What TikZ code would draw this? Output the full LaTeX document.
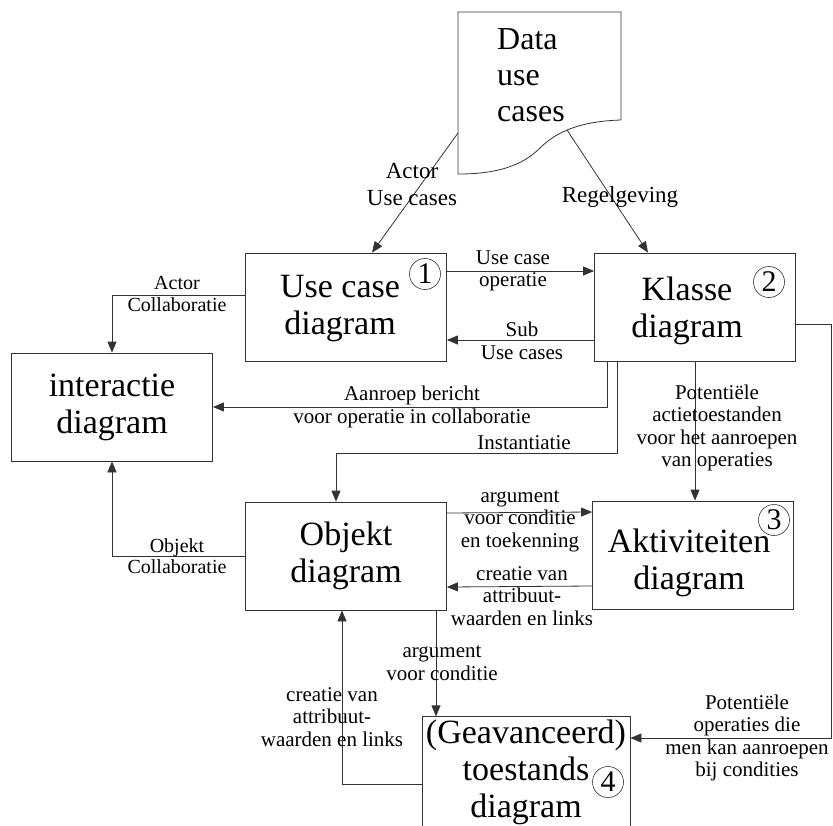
\documentclass[tikz,border=0pt]{standalone}
\usepackage{fontspec}
\setmainfont{Liberation Serif}
\usetikzlibrary{arrows.meta}

\begin{document}
\begin{tikzpicture}[x=1pt, y=-1pt, >={Triangle[length=11pt,width=9pt]},
    ln/.style={draw=black!80, line width=0.8pt},
    big/.style={inner sep=0pt, align=center, font=\fontsize{34}{37}\selectfont},
    box/.style={ln, big, minimum width=201pt, minimum height=108pt},
    num/.style={draw=black!80, line width=0.6pt, circle, minimum size=31pt, inner sep=0pt, font=\fontsize{30}{30}\selectfont},
    lbl/.style={inner sep=0pt, align=center, font=\fontsize{21}{22.5}\selectfont},
    slbl/.style={lbl, font=\fontsize{20}{21.5}\selectfont},
    blbl/.style={lbl, font=\fontsize{23}{27}\selectfont}]
        \path[use as bounding box, clip] (0,0) rectangle (833,825);

        % document shape
        \draw[ln] (458,12) -- (621,12) -- (621,120)
            .. controls (588,121) and (560,128) .. (540,148)
            .. controls (520,168) and (492,174) .. (458,174) -- cycle;
        \node[anchor=west, align=left, inner sep=0pt, font=\fontsize{32}{36}\selectfont]
            (doc) at (497,75) {Data\\use\\cases};
        \coordinate (docl) at (458,133);
        \coordinate (docr) at (567,130);

        \node[box, label={[big, xshift=-6pt, yshift=-2pt]center:{Use case\\diagram}}] (uc) at (346,307) {};
        \node[box, label={[big, xshift=-8pt, yshift=-4pt]center:{Klasse\\diagram}}] (kl) at (695,307) {};
        \node[box] (ia) at (112,407) {interactie\\diagram};
        \node[box] (ob) at (346,556) {Objekt\\diagram};
        \node[box, label={[big, xshift=-4pt, yshift=-8pt]center:{Aktiviteiten\\diagram}}] (ak) at (693,555) {};
        \node[box, minimum width=208pt, minimum height=112pt] (ts) at (526,772) {(Geavanceerd)\\toestands\\diagram};

        \node[num] (n1) at (425,274) {1};
        \node[num] (n2) at (769,282) {2};
        \node[num] (n3) at (774,520) {3};
        \node[num] (n4) at (608,782) {4};

        \draw[ln, ->] (docl) -- ([xshift=26pt]uc.north);
        \draw[ln, ->] (docr) -- ([xshift=-47pt]kl.north);
        \draw[ln, ->] ([yshift=36pt]uc.east) -- ([yshift=36pt]kl.west);
        \draw[ln, ->] ([yshift=-33pt]kl.west) -- ([yshift=-33pt]uc.east);
        \draw[ln, ->] ([yshift=12pt]uc.west) -| (ia.north);
        \draw[ln, ->] ([xshift=-88pt]kl.south) |- (ia.east);
        \draw[ln, ->] ([xshift=-78pt]kl.south) -- ++(0,92) -| ([xshift=-10pt]ob.north);
        \draw[ln, ->] (kl.south) -- (kl.south |- ak.north);
        \draw[ln, ->] ([yshift=-17pt]kl.east) -- ++(35,0) |- ([yshift=34pt]ts.east);
        \draw[ln, ->] ([yshift=43pt]ob.east) -- ([yshift=43pt]ak.west);
        \draw[ln, ->] ([yshift=-31pt]ak.west) -- ([yshift=-31pt]ob.east);
        \draw[ln, ->] ([xshift=90pt]ob.south) -- ++(0,106);
        \draw[ln, ->] ([yshift=-12pt]ts.west) -| ([xshift=-4pt]ob.south);
        \draw[ln, ->] (ob.west) -| (ia.south);

        \node[blbl] (l1) at (412,185) {Actor\\Use cases};
        \node[blbl] (l2) at (620,197) {Regelgeving};
        \node[lbl] (l3) at (513,271) {Use case\\operatie};
        \node[lbl] (l4) at (522,341) {Sub\\Use cases};
        \node[slbl] (l5) at (177,294) {Actor\\Collaboratie};
        \node[lbl] (l6) at (412,407) {Aanroep bericht\\voor operatie in collaboratie};
        \node[lbl] (l7) at (524,443) {Instantiatie};
        \node[lbl] (l8) at (717,428) {Potentiële\\actietoestanden\\voor het aanroepen\\van operaties};
        \node[lbl] (l9) at (747,738) {Potentiële\\operaties die\\men kan aanroepen\\bij condities};
        \node[lbl] (l10) at (520,521) {argument\\voor conditie\\en toekenning};
        \node[lbl] (l11) at (522,596) {creatie van\\attribuut-\\waarden en links};
        \node[lbl] (l12) at (442,663) {argument\\voor conditie};
        \node[lbl] (l13) at (332,717) {creatie van\\attribuut-\\waarden en links};
        \node[slbl] (l14) at (177,556) {Objekt\\Collaboratie};

    \end{tikzpicture}
\end{document}
